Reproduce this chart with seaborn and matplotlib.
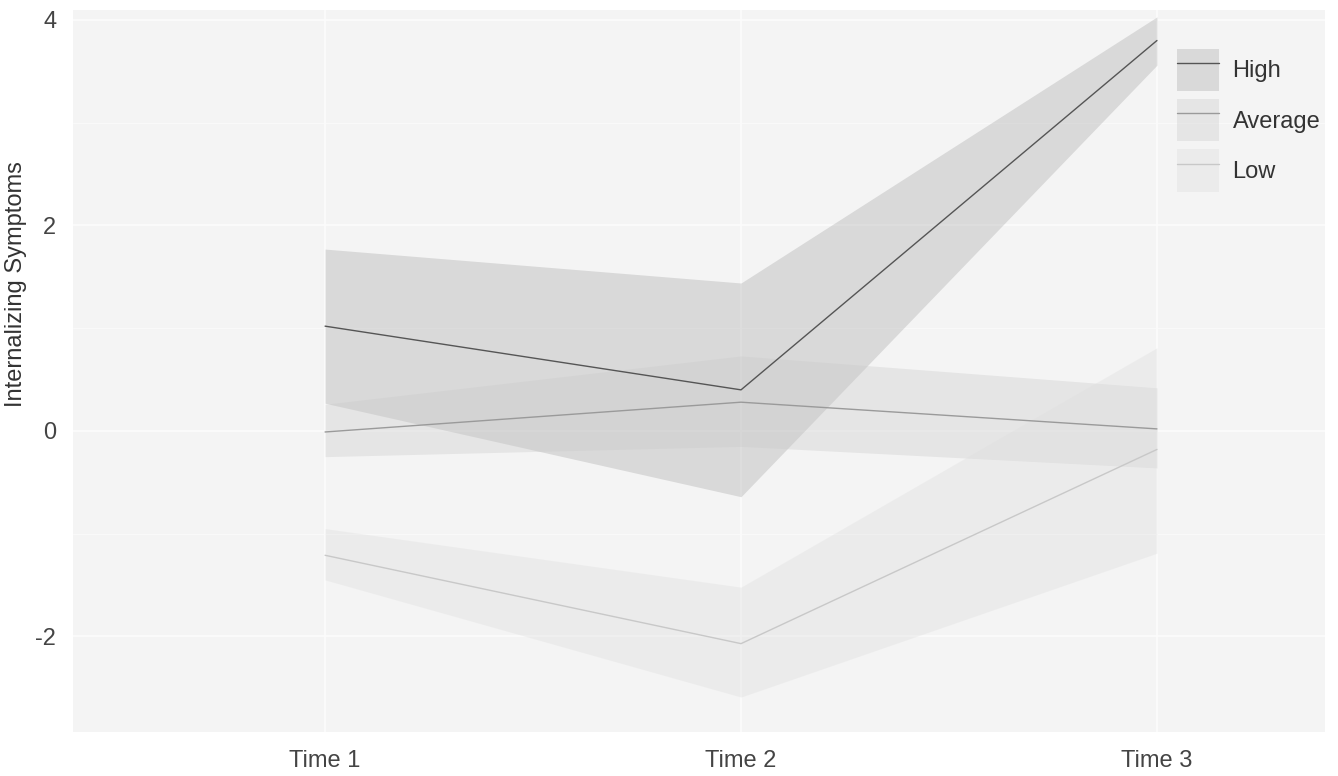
import pandas as pd
import matplotlib
matplotlib.use("Agg")
import matplotlib.pyplot as plt
import seaborn as sns
from matplotlib.patches import Patch
from matplotlib.lines import Line2D

# data
times = ["Time 1", "Time 2", "Time 3"]
groups = ["High", "Average", "Low"]

high_mean = [1.02, 0.40, 3.80]
high_lower = [0.27, -0.64, 3.56]
high_upper = [1.77, 1.44, 4.03]

avg_mean = [-0.01, 0.28, 0.02]
avg_lower = [-0.25, -0.15, -0.36]
avg_upper = [0.26, 0.73, 0.42]

low_mean = [-1.21, -2.07, -0.18]
low_lower = [-1.45, -2.59, -1.19]
low_upper = [-0.95, -1.52, 0.81]

y_ticks = [-2, 0, 2, 4]

# long-form table for seaborn
rows = []
for g, m, lo, hi in zip(groups,
                        [high_mean, avg_mean, low_mean],
                        [high_lower, avg_lower, low_lower],
                        [high_upper, avg_upper, low_upper]):
    for i, t in enumerate(times):
        rows.append({"group": g, "time": t, "x": i, "mean": m[i], "lower": lo[i], "upper": hi[i]})
df = pd.DataFrame(rows)

line_colors = {"High": "#555555", "Average": "#9a9a9a", "Low": "#c8c8c8"}
fill_colors = {"High": "#a7a7a7", "Average": "#c9c9c9", "Low": "#dddddd"}
fill_alpha = 0.35

sns.set_theme(style="whitegrid")
plt.rcParams["font.family"] = ["Liberation Sans", "DejaVu Sans"]

fig = plt.figure(figsize=(13.38, 7.76), dpi=100)
ax = fig.add_axes([73 / 1338, 44 / 776, 1252 / 1338, 722 / 776])
ax.set_facecolor("#f4f4f4")

# ribbons
for g in groups:
    sub = df[df["group"] == g]
    ax.fill_between(sub["x"], sub["lower"], sub["upper"],
                    color=fill_colors[g], alpha=fill_alpha, linewidth=0, zorder=2)

# lines
sns.lineplot(data=df, x="x", y="mean", hue="group", hue_order=groups,
             palette=line_colors, estimator=None, linewidth=1.0,
             legend=False, ax=ax, zorder=3)

ax.set_xlim(-0.606, 2.404)
ax.set_ylim(-2.93, 4.097)
ax.set_xticks(range(len(times)), times)
ax.set_yticks(y_ticks, [str(v) for v in y_ticks])
ax.set_yticks([-1, 1, 3], minor=True)

ax.grid(which="major", color="#fcfcfc", linewidth=1.1)
ax.grid(which="minor", axis="y", color="#fafafa", linewidth=0.7)
ax.set_axisbelow(True)
for s in ax.spines.values():
    s.set_visible(False)

ax.tick_params(axis="both", length=0, labelsize=17, colors="#444444")
ax.tick_params(axis="x", pad=13)
ax.tick_params(axis="y", pad=12)

ax.set_xlabel("")
ax.set_ylabel("Internalizing Symptoms", fontsize=17, color="#333333")
ax.yaxis.set_label_coords(-0.037, 0.62)

# legend: ribbon square with the line through it
handles = [(Patch(facecolor=fill_colors[g], alpha=fill_alpha, edgecolor="none"),
            Line2D([], [], color=line_colors[g], linewidth=1.0)) for g in groups]
fig.legend(handles, groups, loc="upper left", bbox_to_anchor=(1165 / 1338, 1 - 37 / 776),
           frameon=False, fontsize=17, handlelength=1.78, handleheight=2.38,
           labelspacing=0.34, handletextpad=0.58, borderpad=0, labelcolor="#333333")

plt.savefig("out.png", dpi=100)
